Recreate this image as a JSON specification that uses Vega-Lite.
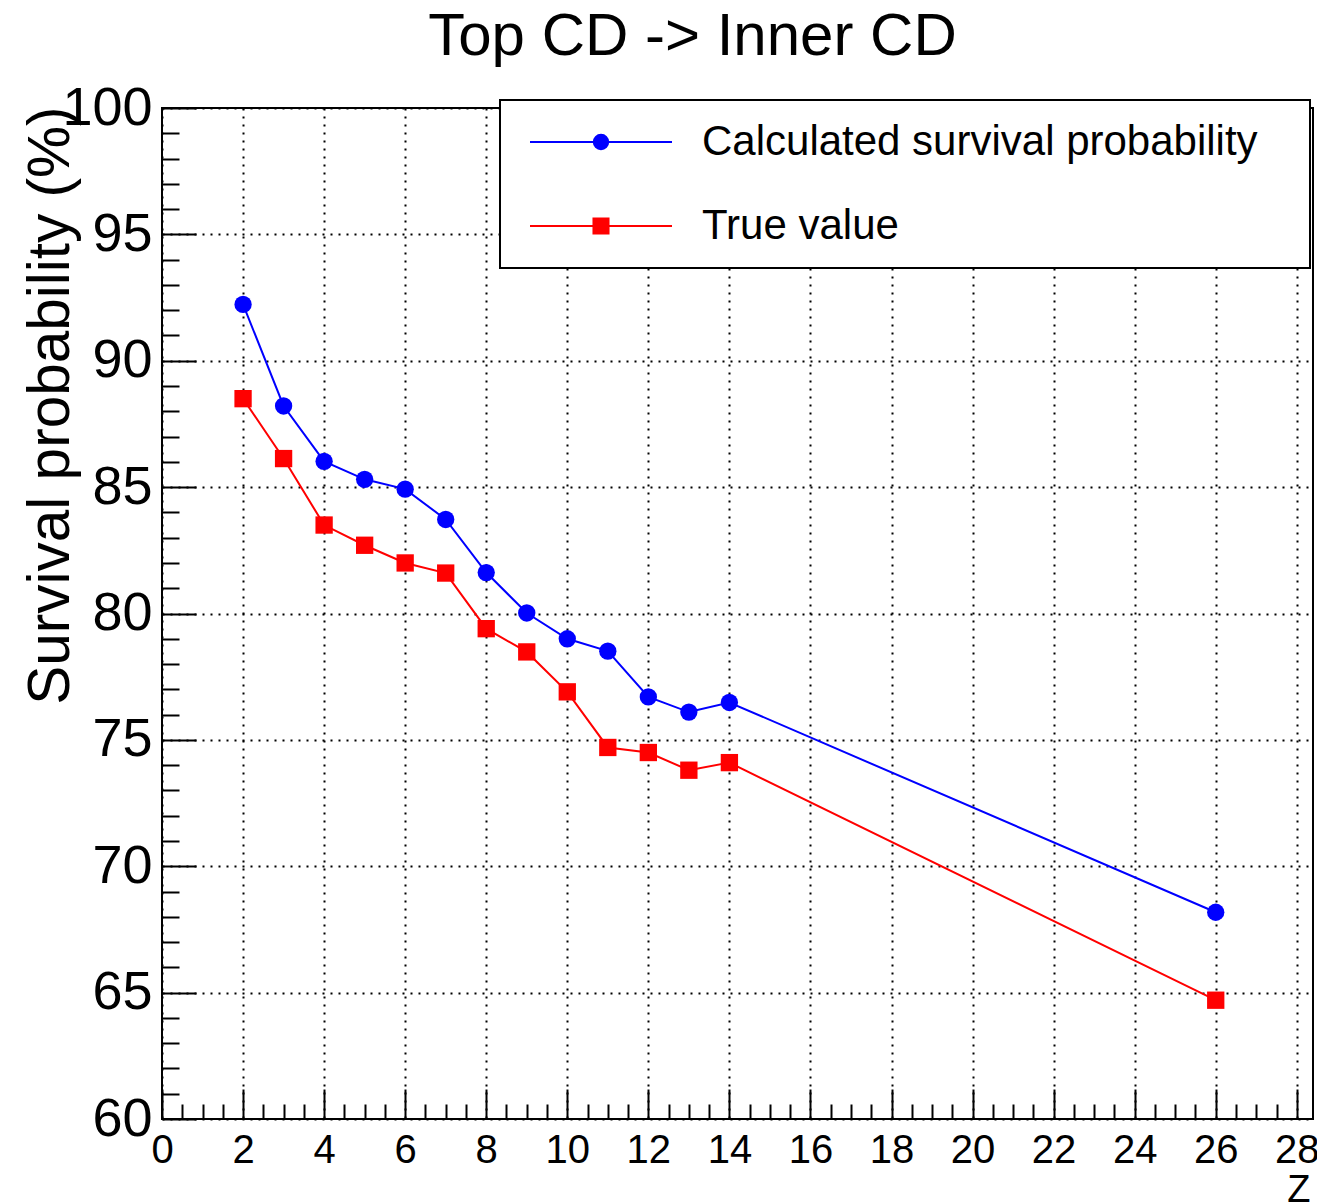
{
  "$schema": "https://vega.github.io/schema/vega-lite/v6.json",
  "autosize": {"type": "none"},
  "padding": {"left": 162, "top": 108, "right": 4, "bottom": 84},
  "width": 1151,
  "height": 1011,
  "background": "white",
  "title": {
    "text": "Top CD -> Inner CD",
    "font": "Liberation Sans",
    "fontSize": 60,
    "fontWeight": "normal",
    "color": "black",
    "anchor": "middle",
    "frame": "group",
    "baseline": "alphabetic",
    "offset": -34,
    "dx": -45
  },
  "data": {
    "values": [
      {"z": 2, "series": "Calculated survival probability", "value": 92.23},
      {"z": 3, "series": "Calculated survival probability", "value": 88.21},
      {"z": 4, "series": "Calculated survival probability", "value": 86.02},
      {"z": 5, "series": "Calculated survival probability", "value": 85.31},
      {"z": 6, "series": "Calculated survival probability", "value": 84.92},
      {"z": 7, "series": "Calculated survival probability", "value": 83.72},
      {"z": 8, "series": "Calculated survival probability", "value": 81.62},
      {"z": 9, "series": "Calculated survival probability", "value": 80.02},
      {"z": 10, "series": "Calculated survival probability", "value": 79.0},
      {"z": 11, "series": "Calculated survival probability", "value": 78.51},
      {"z": 12, "series": "Calculated survival probability", "value": 76.7},
      {"z": 13, "series": "Calculated survival probability", "value": 76.1},
      {"z": 14, "series": "Calculated survival probability", "value": 76.48},
      {"z": 26, "series": "Calculated survival probability", "value": 68.18},
      {"z": 2, "series": "True value", "value": 88.5},
      {"z": 3, "series": "True value", "value": 86.13},
      {"z": 4, "series": "True value", "value": 83.5},
      {"z": 5, "series": "True value", "value": 82.7},
      {"z": 6, "series": "True value", "value": 82.0},
      {"z": 7, "series": "True value", "value": 81.6},
      {"z": 8, "series": "True value", "value": 79.4},
      {"z": 9, "series": "True value", "value": 78.48},
      {"z": 10, "series": "True value", "value": 76.9},
      {"z": 11, "series": "True value", "value": 74.7},
      {"z": 12, "series": "True value", "value": 74.5},
      {"z": 13, "series": "True value", "value": 73.8},
      {"z": 14, "series": "True value", "value": 74.1},
      {"z": 26, "series": "True value", "value": 64.7}
    ]
  },
  "layer": [
    {
      "mark": {"type": "line", "strokeWidth": 2},
      "encoding": {
        "x": {
          "field": "z", "type": "quantitative",
          "scale": {"domain": [0, 28.4], "nice": false, "zero": false},
          "axis": {
            "orient": "bottom",
            "values": [0, 2, 4, 6, 8, 10, 12, 14, 16, 18, 20, 22, 24, 26, 28],
            "format": "d",
            "domain": false,
            "grid": true, "gridColor": "black", "gridDash": [2, 6], "gridWidth": 2, "gridOpacity": 1,
            "ticks": true, "tickSize": -30, "tickColor": "black", "tickWidth": 2,
            "labelFont": "Liberation Sans", "labelFontSize": 40, "labelColor": "black",
            "labelBaseline": "alphabetic", "labelPadding": 73, "labelOverlap": false, "labelFlush": false,
            "title": "Z", "titleFont": "Liberation Sans", "titleFontSize": 38, "titleFontWeight": "normal",
            "titleColor": "black", "titleX": 1148, "titleY": 82, "titleAlign": "right", "titleBaseline": "alphabetic"
          }
        },
        "y": {
          "field": "value", "type": "quantitative",
          "scale": {"domain": [60, 100], "nice": false, "zero": false},
          "axis": {
            "orient": "left",
            "values": [60, 65, 70, 75, 80, 85, 90, 95, 100],
            "format": "d",
            "domain": false,
            "grid": true, "gridColor": "black", "gridDash": [2, 6], "gridWidth": 2, "gridOpacity": 1,
            "ticks": true, "tickSize": -34, "tickColor": "black", "tickWidth": 2,
            "labelFont": "Liberation Sans", "labelFontSize": 54, "labelColor": "black",
            "labelBaseline": "middle", "labelPadding": 44, "labelOverlap": false, "labelFlush": false,
            "title": "Survival probability (%)", "titleFont": "Liberation Sans", "titleFontSize": 58.5,
            "titleFontWeight": "normal", "titleColor": "black", "titleAngle": 270,
            "titleX": -94, "titleY": -2, "titleAlign": "right", "titleBaseline": "alphabetic"
          }
        },
        "color": {
          "field": "series", "type": "nominal",
          "scale": {"domain": ["Calculated survival probability", "True value"], "range": ["#0000ff", "#ff0000"]},
          "legend": {
            "orient": "none", "legendX": 338, "legendY": -8, "title": null,
            "strokeColor": "black", "fillColor": "white", "padding": 21,
            "labelFont": "Liberation Sans", "labelFontSize": 42, "labelColor": "black", "labelLimit": 1000,
            "symbolSize": 256, "symbolOffset": 59, "labelOffset": 80, "rowPadding": 42,
            "labelExpr": "datum.label + '\u2800'",
            "encode": {
              "symbols": {
                "update": {
                  "shape": {"signal": "datum.value === 'Calculated survival probability' ? 'M-8.875,0H8.875M0.9,0A0.9,0.9,0,1,1,-0.9,0A0.9,0.9,0,1,1,0.9,0Z' : 'M-8.875,0H8.875M-0.94,-0.94H0.94V0.94H-0.94Z'"},
                  "stroke": {"signal": "datum.value === 'Calculated survival probability' ? '#0000ff' : '#ff0000'"},
                  "fill": {"signal": "datum.value === 'Calculated survival probability' ? '#0000ff' : '#ff0000'"},
                  "strokeWidth": {"value": 2},
                  "opacity": {"value": 1}
                }
              },
              "legend": {"update": {"strokeWidth": {"value": 2}}}
            }
          }
        }
      }
    },
    {
      "transform": [{"filter": "datum.series === 'Calculated survival probability'"}],
      "mark": {"type": "point", "shape": "circle", "filled": true, "opacity": 1, "strokeWidth": 0, "size": 300},
      "encoding": {
        "x": {
          "field": "z", "type": "quantitative",
          "axis": {
            "orient": "bottom",
            "values": [0.5, 1, 1.5, 2.5, 3, 3.5, 4.5, 5, 5.5, 6.5, 7, 7.5, 8.5, 9, 9.5, 10.5, 11, 11.5, 12.5, 13, 13.5, 14.5, 15, 15.5, 16.5, 17, 17.5, 18.5, 19, 19.5, 20.5, 21, 21.5, 22.5, 23, 23.5, 24.5, 25, 25.5, 26.5, 27, 27.5],
            "domain": false, "grid": false, "labels": false, "title": null,
            "ticks": true, "tickSize": -15, "tickColor": "black", "tickWidth": 2
          }
        },
        "y": {
          "field": "value", "type": "quantitative",
          "axis": {
            "orient": "left",
            "values": [61, 62, 63, 64, 66, 67, 68, 69, 71, 72, 73, 74, 76, 77, 78, 79, 81, 82, 83, 84, 86, 87, 88, 89, 91, 92, 93, 94, 96, 97, 98, 99],
            "domain": false, "grid": false, "labels": false, "title": null,
            "ticks": true, "tickSize": -17, "tickColor": "black", "tickWidth": 2
          }
        },
        "color": {"field": "series", "type": "nominal"}
      }
    },
    {
      "transform": [{"filter": "datum.series === 'True value'"}],
      "mark": {"type": "point", "shape": "square", "filled": true, "opacity": 1, "strokeWidth": 0, "size": 300},
      "encoding": {
        "x": {"field": "z", "type": "quantitative", "axis": null},
        "y": {"field": "value", "type": "quantitative", "axis": null},
        "color": {"field": "series", "type": "nominal"}
      }
    }
  ],
  "resolve": {"axis": {"x": "independent", "y": "independent"}},
  "config": {
    "view": {"stroke": "black", "strokeWidth": 2, "fill": "white"},
    "font": "Liberation Sans"
  }
}
